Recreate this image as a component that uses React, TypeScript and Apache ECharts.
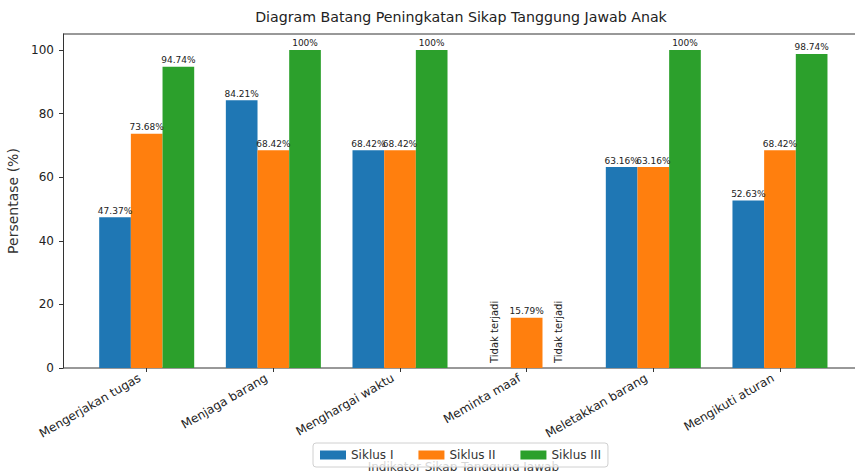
import React, { useEffect, useRef } from "react";
import * as echarts from "echarts";

const categories = [
  "Mengerjakan tugas",
  "Menjaga barang",
  "Menghargai waktu",
  "Meminta maaf",
  "Meletakkan barang",
  "Mengikuti aturan",
];
const seriesNames = ["Siklus I", "Siklus II", "Siklus III"];
const siklus1 = [47.37, 84.21, 68.42, 0, 63.16, 52.63];
const siklus2 = [73.68, 68.42, 68.42, 15.79, 63.16, 68.42];
const siklus3 = [94.74, 100, 100, 0, 100, 98.74];
const colors = ["#1f77b4", "#ff7f0e", "#2ca02c"];
const yTicks = [0, 20, 40, 60, 80, 100];
const zeroLabel = "Tidak terjadi";

const FONT = "DejaVu Sans";

function fmt(v: number): string {
  return Number.isInteger(v) ? `${v}%` : `${v.toFixed(2)}%`;
}

export default function App() {
  const ref = useRef<HTMLDivElement>(null);
  useEffect(() => {
    if (!ref.current) return;
    const chart = echarts.init(ref.current, undefined, { renderer: "svg" });
    const W = 855;
    const gridTop = 34;
    const gridHeight = 334;
    const axisY = gridTop + gridHeight;
    const frameLeft = 63;
    const bandLeft = 83.37;
    const bandRight = 843.3;

    const all = [siklus1, siklus2, siklus3];
    const series = all.map((vals, si) => ({
      name: seriesNames[si],
      type: "bar",
      barWidth: 31.67,
      barGap: "0%",
      itemStyle: { color: colors[si] },
      label: {
        show: true,
        position: "top",
        distance: 2,
        fontFamily: FONT,
        fontSize: 9,
        color: "#222",
        formatter: (p: any) => fmt(p.value),
      },
      data: vals.map((v) =>
        v === 0
          ? {
              value: v,
              label: {
                show: true,
                position: "top",
                rotate: 90,
                align: "left",
                verticalAlign: "middle",
                distance: 5,
                fontFamily: FONT,
                fontSize: 10,
                color: "#222",
                formatter: zeroLabel,
              },
            }
          : v
      ),
    }));

    chart.setOption({
      animation: false,
      backgroundColor: "#ffffff",
      title: {
        text: "Diagram Batang Peningkatan Sikap Tanggung Jawab Anak",
        left: 456,
        textAlign: "center",
        top: 5,
        textStyle: { fontFamily: FONT, fontSize: 14.2, fontWeight: "normal", color: "#222" },
      },
      legend: {
        data: seriesNames,
        left: 313,
        top: 443,
        padding: [6, 7],
        itemGap: 25,
        itemWidth: 26,
        itemHeight: 9,
        icon: "rect",
        borderColor: "#d0d0d0",
        borderWidth: 1,
        borderRadius: 3,
        backgroundColor: "rgba(255,255,255,0.8)",
        textStyle: { fontFamily: FONT, fontSize: 12, color: "#333" },
        z: 10,
      },
      grid: {
        left: bandLeft,
        width: bandRight - bandLeft,
        top: gridTop,
        height: gridHeight,
        containLabel: false,
        outerBoundsMode: "none",
      },
      xAxis: {
        type: "category",
        data: categories,
        name: "Indikator Sikap Tanggung Jawab",
        nameLocation: "middle",
        nameGap: 93,
        nameTextStyle: { fontFamily: FONT, fontSize: 12, color: "#333" },
        axisLine: { show: false },
        axisTick: { show: true, alignWithLabel: true, length: 4, lineStyle: { color: "#333" } },
        axisLabel: {
          rotate: 30,
          interval: 0,
          margin: 5,
          padding: [0, 8, 0, 0],
          fontFamily: FONT,
          fontSize: 12,
          color: "#222",
        },
        splitLine: { show: false },
      },
      yAxis: {
        type: "value",
        min: 0,
        max: 105,
        interval: 20,
        offset: bandLeft - frameLeft,
        name: "Persentase (%)",
        nameLocation: "middle",
        nameGap: 37,
        nameTextStyle: { fontFamily: FONT, fontSize: 14, color: "#333" },
        axisLine: { show: true, lineStyle: { color: "#333", width: 1 } },
        axisTick: { show: true, length: 4, lineStyle: { color: "#333" } },
        axisLabel: {
          margin: 9,
          fontFamily: FONT,
          fontSize: 12,
          color: "#222",
          formatter: (v: number) => (yTicks.includes(v) ? String(v) : ""),
          showMaxLabel: false,
        },
        splitLine: { show: false },
      },
      graphic: [
        {
          type: "line",
          shape: { x1: frameLeft, y1: gridTop, x2: W, y2: gridTop },
          style: { stroke: "#333", lineWidth: 1 },
          silent: true,
        },
        {
          type: "line",
          shape: { x1: frameLeft, y1: axisY, x2: W, y2: axisY },
          style: { stroke: "#333", lineWidth: 1 },
          silent: true,
        },
      ],
      series,
    });
    return () => chart.dispose();
  }, []);
  return (
    <div
      ref={ref}
      style={{ position: "fixed", left: 0, top: 0, width: 855, height: 471 }}
    />
  );
}
